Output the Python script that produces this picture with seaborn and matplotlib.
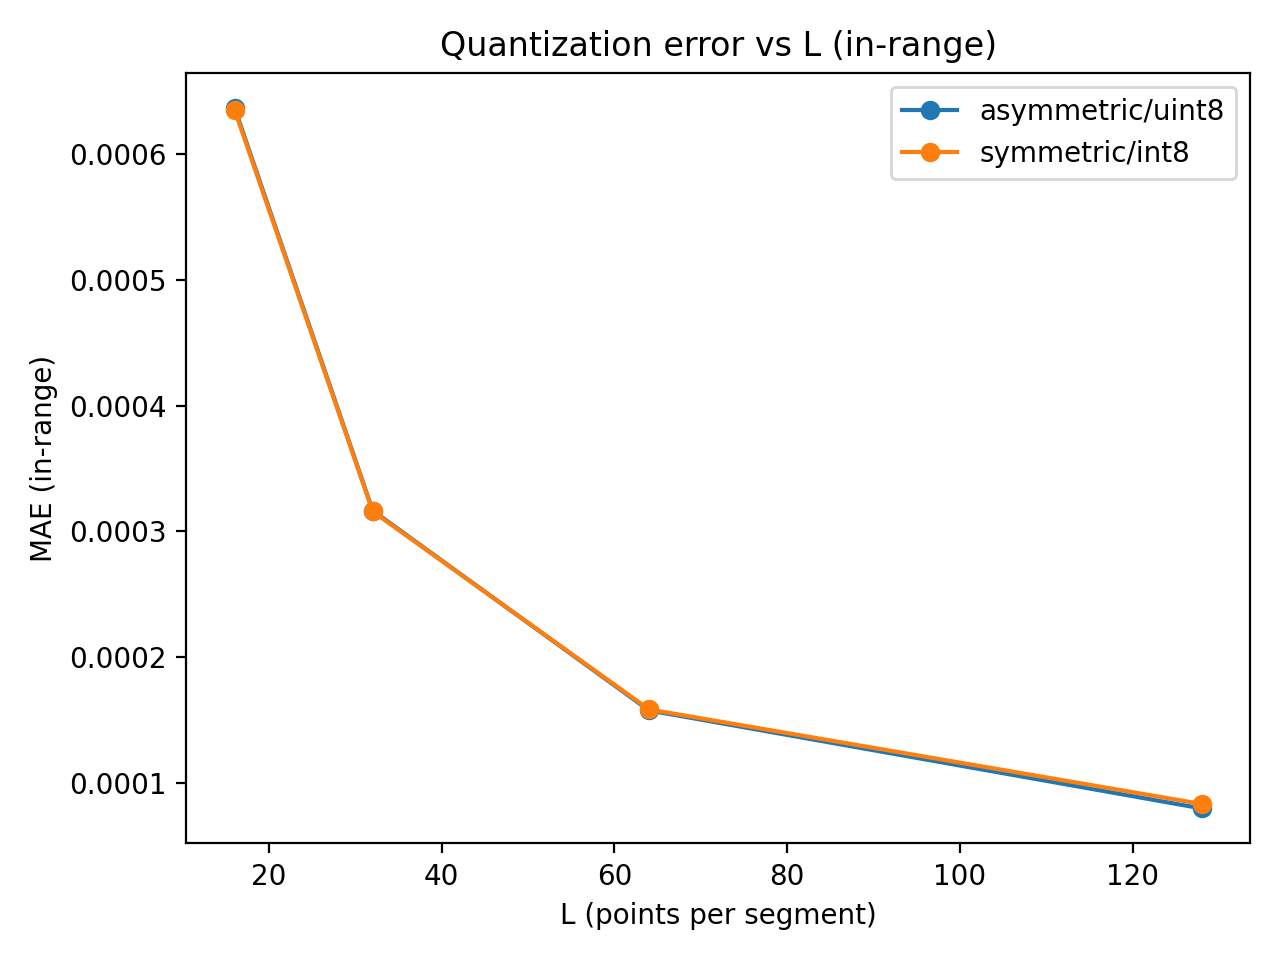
import matplotlib
matplotlib.use("Agg")
import matplotlib.pyplot as plt
import seaborn as sns

L = [16, 32, 64, 128]
mae_asym = [0.0006368, 0.0003165, 0.0001576, 0.0000797]
mae_sym = [0.0006352, 0.0003158, 0.0001584, 0.0000832]

fig, ax = plt.subplots(figsize=(6.4, 4.8), dpi=200)

for vals, label, c in [(mae_asym, "asymmetric/uint8", "tab:blue"),
                       (mae_sym, "symmetric/int8", "tab:orange")]:
    sns.lineplot(x=L, y=vals, ax=ax, label=label, color=c, marker="o",
                 markersize=6, markeredgecolor=c, markeredgewidth=1)

ax.set_title("Quantization error vs L (in-range)")
ax.set_xlabel("L (points per segment)")
ax.set_ylabel("MAE (in-range)")
ax.legend(loc="upper right")
fig.tight_layout()
fig.savefig("out.png")
